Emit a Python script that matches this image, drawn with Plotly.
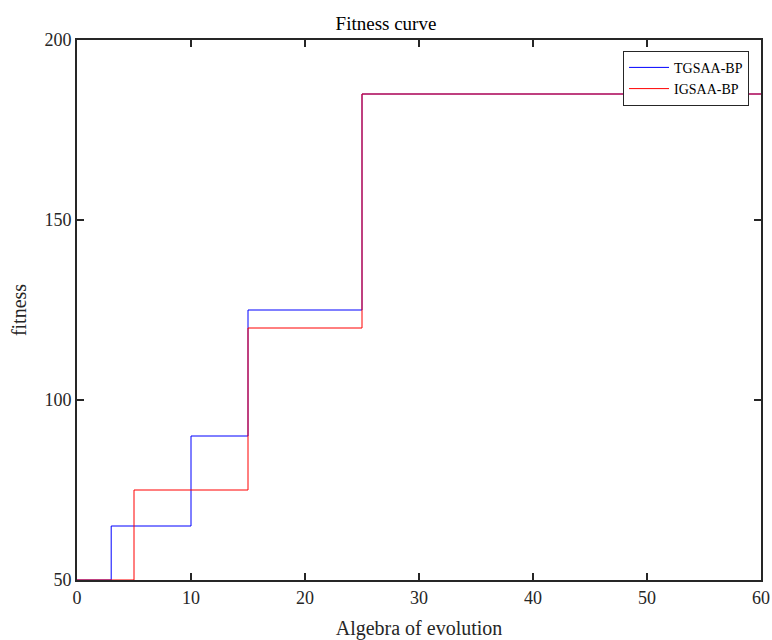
import plotly.graph_objects as go

# Data (generation at which value changes, fitness value)
tgsaa_x = [0, 3, 10, 15, 25, 60]
tgsaa_y = [50, 65, 90, 125, 185, 185]
igsaa_x = [0, 5, 15, 25, 60]
igsaa_y = [50, 75, 120, 185, 185]

x_ticks = [0, 10, 20, 30, 40, 50, 60]
y_ticks = [50, 100, 150, 200]

font_family = "Liberation Serif, Times New Roman, serif"

fig = go.Figure()
fig.add_trace(go.Scatter(x=tgsaa_x, y=tgsaa_y, mode="lines", name="TGSAA-BP",
                         line=dict(color="#0000ff", width=1, shape="hv")))
fig.add_trace(go.Scatter(x=igsaa_x, y=igsaa_y, mode="lines", name="IGSAA-BP",
                         line=dict(color="#ff0000", width=1, shape="hv")))

axis_common = dict(showline=True, linecolor="#262626", linewidth=2, mirror="ticks",
                   ticks="inside", ticklen=7, tickwidth=2, tickcolor="#262626",
                   showgrid=False, zeroline=False, automargin=False,
                   tickfont=dict(family=font_family, size=18, color="#262626"))

fig.update_layout(
    width=772, height=640,
    paper_bgcolor="white", plot_bgcolor="white",
    margin=dict(l=77, r=11, t=40, b=60),
    title=dict(text="Fitness curve", x=0.5, xanchor="center", y=0.964, yanchor="middle",
               font=dict(family=font_family, size=19, color="#000000")),
    xaxis=dict(range=[0, 60], tickvals=x_ticks,
               title=dict(text="Algebra of evolution", standoff=15,
                          font=dict(family=font_family, size=20, color="#262626")),
               **axis_common),
    yaxis=dict(range=[50, 200], tickvals=y_ticks,
               title=dict(text="fitness", standoff=12,
                          font=dict(family=font_family, size=20, color="#262626")),
               **axis_common),
    legend=dict(x=0.9825, y=0.98, xanchor="right", yanchor="top",
                bgcolor="white", bordercolor="#262626", borderwidth=1,
                font=dict(family=font_family, size=14, color="#000000"),
                tracegroupgap=0, itemwidth=40),
    showlegend=True,
)

fig.write_html("out.html", config={"displayModeBar": False},
               post_script="document.body.style.margin='0';document.body.style.overflow='hidden';")
